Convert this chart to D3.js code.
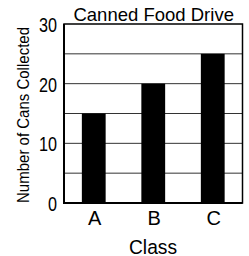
<!DOCTYPE html>
<html><head><meta charset="utf-8">
<script src="https://cdn.jsdelivr.net/npm/d3@7"></script>
<style>html,body{margin:0;padding:0;background:#fff;}svg{display:block;}</style>
</head><body>
<svg id="c" width="249" height="256"></svg>
<script>
const categories = ["A", "B", "C"];
const values = [15, 20, 25];
const yTicks = [0, 10, 20, 30];
const gridTicks = [5, 10, 15, 20, 25];
const title = "Canned Food Drive";
const xTitle = "Class";
const yTitle = "Number of Cans Collected";

const svg = d3.select("#c");
const font = "'Liberation Sans', Arial, sans-serif";
const L = 64, R = 242.5, T = 24, B = 203;

const x = d3.scaleBand().domain(categories).range([L, R]).paddingInner(0.6).paddingOuter(0.3);
const y = d3.scaleLinear().domain([0, 30]).range([B, T]);

// grid
svg.append("g").selectAll("line").data(gridTicks).join("line")
  .attr("x1", L).attr("x2", R)
  .attr("y1", d => y(d)).attr("y2", d => y(d))
  .attr("stroke", "#333").attr("stroke-width", 1);

// bars
svg.append("g").selectAll("rect").data(values).join("rect")
  .attr("x", (d, i) => x(categories[i]))
  .attr("width", x.bandwidth())
  .attr("y", d => y(d))
  .attr("height", d => B - y(d))
  .attr("fill", "#000");

// frame
svg.append("rect").attr("x", L).attr("y", T).attr("width", R - L).attr("height", B - T)
  .attr("fill", "none").attr("stroke", "#000").attr("stroke-width", 1.5);
svg.append("line").attr("x1", L).attr("x2", L).attr("y1", T).attr("y2", B + 1)
  .attr("stroke", "#000").attr("stroke-width", 2);
svg.append("line").attr("x1", L - 1).attr("x2", R).attr("y1", B).attr("y2", B)
  .attr("stroke", "#000").attr("stroke-width", 2);

// y tick labels
svg.append("g").selectAll("text").data(yTicks).join("text")
  .attr("x", 57).attr("y", d => y(d) + 8)
  .attr("text-anchor", "end")
  .attr("font-family", font).attr("font-size", 19.5)
  .attr("textLength", d => String(d).length * 9)
  .attr("lengthAdjust", "spacingAndGlyphs")
  .text(d => d);

// x tick labels
svg.append("g").selectAll("text").data(categories).join("text")
  .attr("x", d => x(d) + x.bandwidth() / 2 + 1)
  .attr("y", 225)
  .attr("text-anchor", "middle")
  .attr("font-family", font).attr("font-size", 20)
  .text(d => d);

// titles
svg.append("text").attr("x", 153.7).attr("y", 20.7).attr("text-anchor", "middle")
  .attr("font-family", font).attr("font-size", 18.5)
  .attr("textLength", 160.5).attr("lengthAdjust", "spacingAndGlyphs")
  .text(title);
svg.append("text").attr("x", 153).attr("y", 253.5).attr("text-anchor", "middle")
  .attr("font-family", font).attr("font-size", 20.5)
  .attr("textLength", 48).attr("lengthAdjust", "spacingAndGlyphs")
  .text(xTitle);
svg.append("text").attr("transform", "translate(29,115) rotate(-90)")
  .attr("text-anchor", "middle")
  .attr("font-family", font).attr("font-size", 16.5)
  .attr("textLength", 176).attr("lengthAdjust", "spacingAndGlyphs")
  .text(yTitle);
</script>
</body></html>
